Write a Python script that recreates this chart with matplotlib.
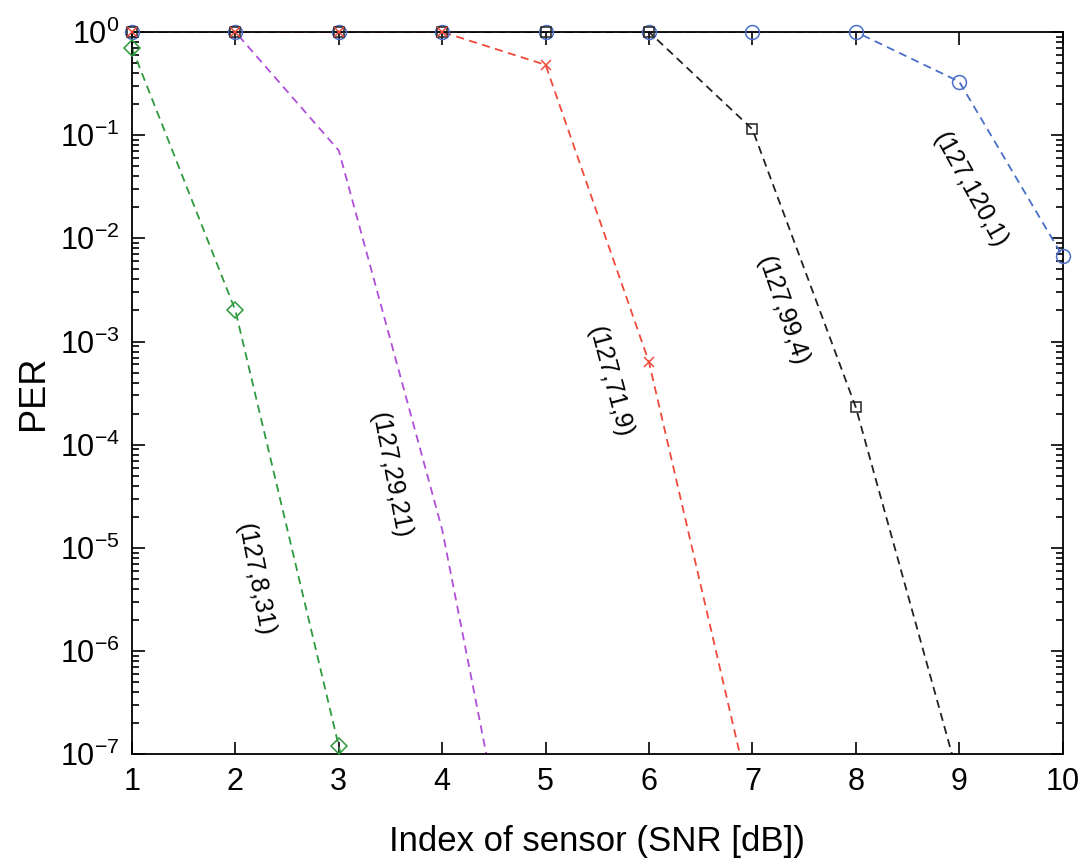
import numpy as np
import matplotlib
matplotlib.use("Agg")
import matplotlib.pyplot as plt
from matplotlib.ticker import LogLocator, NullFormatter

plt.rcParams['font.family'] = ['Liberation Sans', 'DejaVu Sans']
plt.rcParams['mathtext.fontset'] = 'custom'
plt.rcParams['mathtext.rm'] = 'Liberation Sans'

x = np.arange(1, 11)

# PER per code (n,k,t)
per_8_31 = [0.7, 2e-3, 1.2e-7, 1e-11, 1e-12, 1e-12, 1e-12, 1e-12, 1e-12, 1e-12]
per_29_21 = [1, 1, 0.071, 1.5e-5, 1.2e-10, 1e-12, 1e-12, 1e-12, 1e-12, 1e-12]
per_71_9 = [1, 1, 1, 1, 0.48, 6.3e-4, 3e-8, 1e-12, 1e-12, 1e-12]
per_99_4 = [1, 1, 1, 1, 1, 1, 0.114, 2.3e-4, 5.6e-8, 1e-12]
per_120_1 = [1, 1, 1, 1, 1, 1, 1, 1, 0.33, 6.7e-3]

# label positions (x, y, rotation)
labels = ["(127,8,31)", "(127,29,21)", "(127,71,9)", "(127,99,4)", "(127,120,1)"]
lab_x = [2.19, 3.50, 5.62, 7.29, 9.10]
lab_y = [10**-5.31, 10**-4.30, 10**-3.39, 10**-2.70, 10**-1.53]
lab_rot = [-79, -79, -75, -71, -61]

fig = plt.figure(figsize=(10.86, 8.64), dpi=100)
ax = fig.add_axes([0.1215, 0.127, 0.857, 0.836])

series = [
    (per_120_1, '#4a6fc8', 'o', 10),
    (per_99_4, '#222222', 's', 7),
    (per_71_9, '#f04a3c', 'x', 7),
    (per_29_21, '#b04fd8', None, 0),
    (per_8_31, '#2e9a3e', 'D', 8),
]
dash = (0, (4.5, 3))
for vals, col, mk, ms in series:
    vals = np.array(vals, dtype=float)
    ax.plot(x, vals, linestyle=dash, color=col, lw=1.3)
    if mk:
        shown = np.where(vals >= 1e-7, vals, np.nan)
        ax.plot(x, shown, linestyle='none', marker=mk, ms=ms, color=col,
                mfc='none', mew=1.1, clip_on=False, zorder=3)

for t, lx, ly, r in zip(labels, lab_x, lab_y, lab_rot):
    ax.text(lx, ly, t, rotation=r, ha='center', va='center', fontsize=18,
            rotation_mode='anchor')

ax.set_yscale('log')
ax.set_xlim(1, 10)
ax.set_ylim(1e-7, 1)
ax.set_xticks(x)
ax.yaxis.set_major_locator(LogLocator(base=10, numticks=20))
ax.yaxis.set_minor_locator(LogLocator(base=10, subs=np.arange(2, 10), numticks=20))
ax.yaxis.set_minor_formatter(NullFormatter())
ax.tick_params(which='both', direction='in', top=True, right=True, width=1.2)
ax.tick_params(which='major', length=9, labelsize=22, pad=9)
ax.tick_params(which='minor', length=5)
for s in ax.spines.values():
    s.set_linewidth(1.3)

ax.set_xlabel("Index of sensor (SNR [dB])", fontsize=25, labelpad=20)
ax.set_ylabel("PER", fontsize=26, labelpad=6)

fig.savefig("out.png", dpi=100)
